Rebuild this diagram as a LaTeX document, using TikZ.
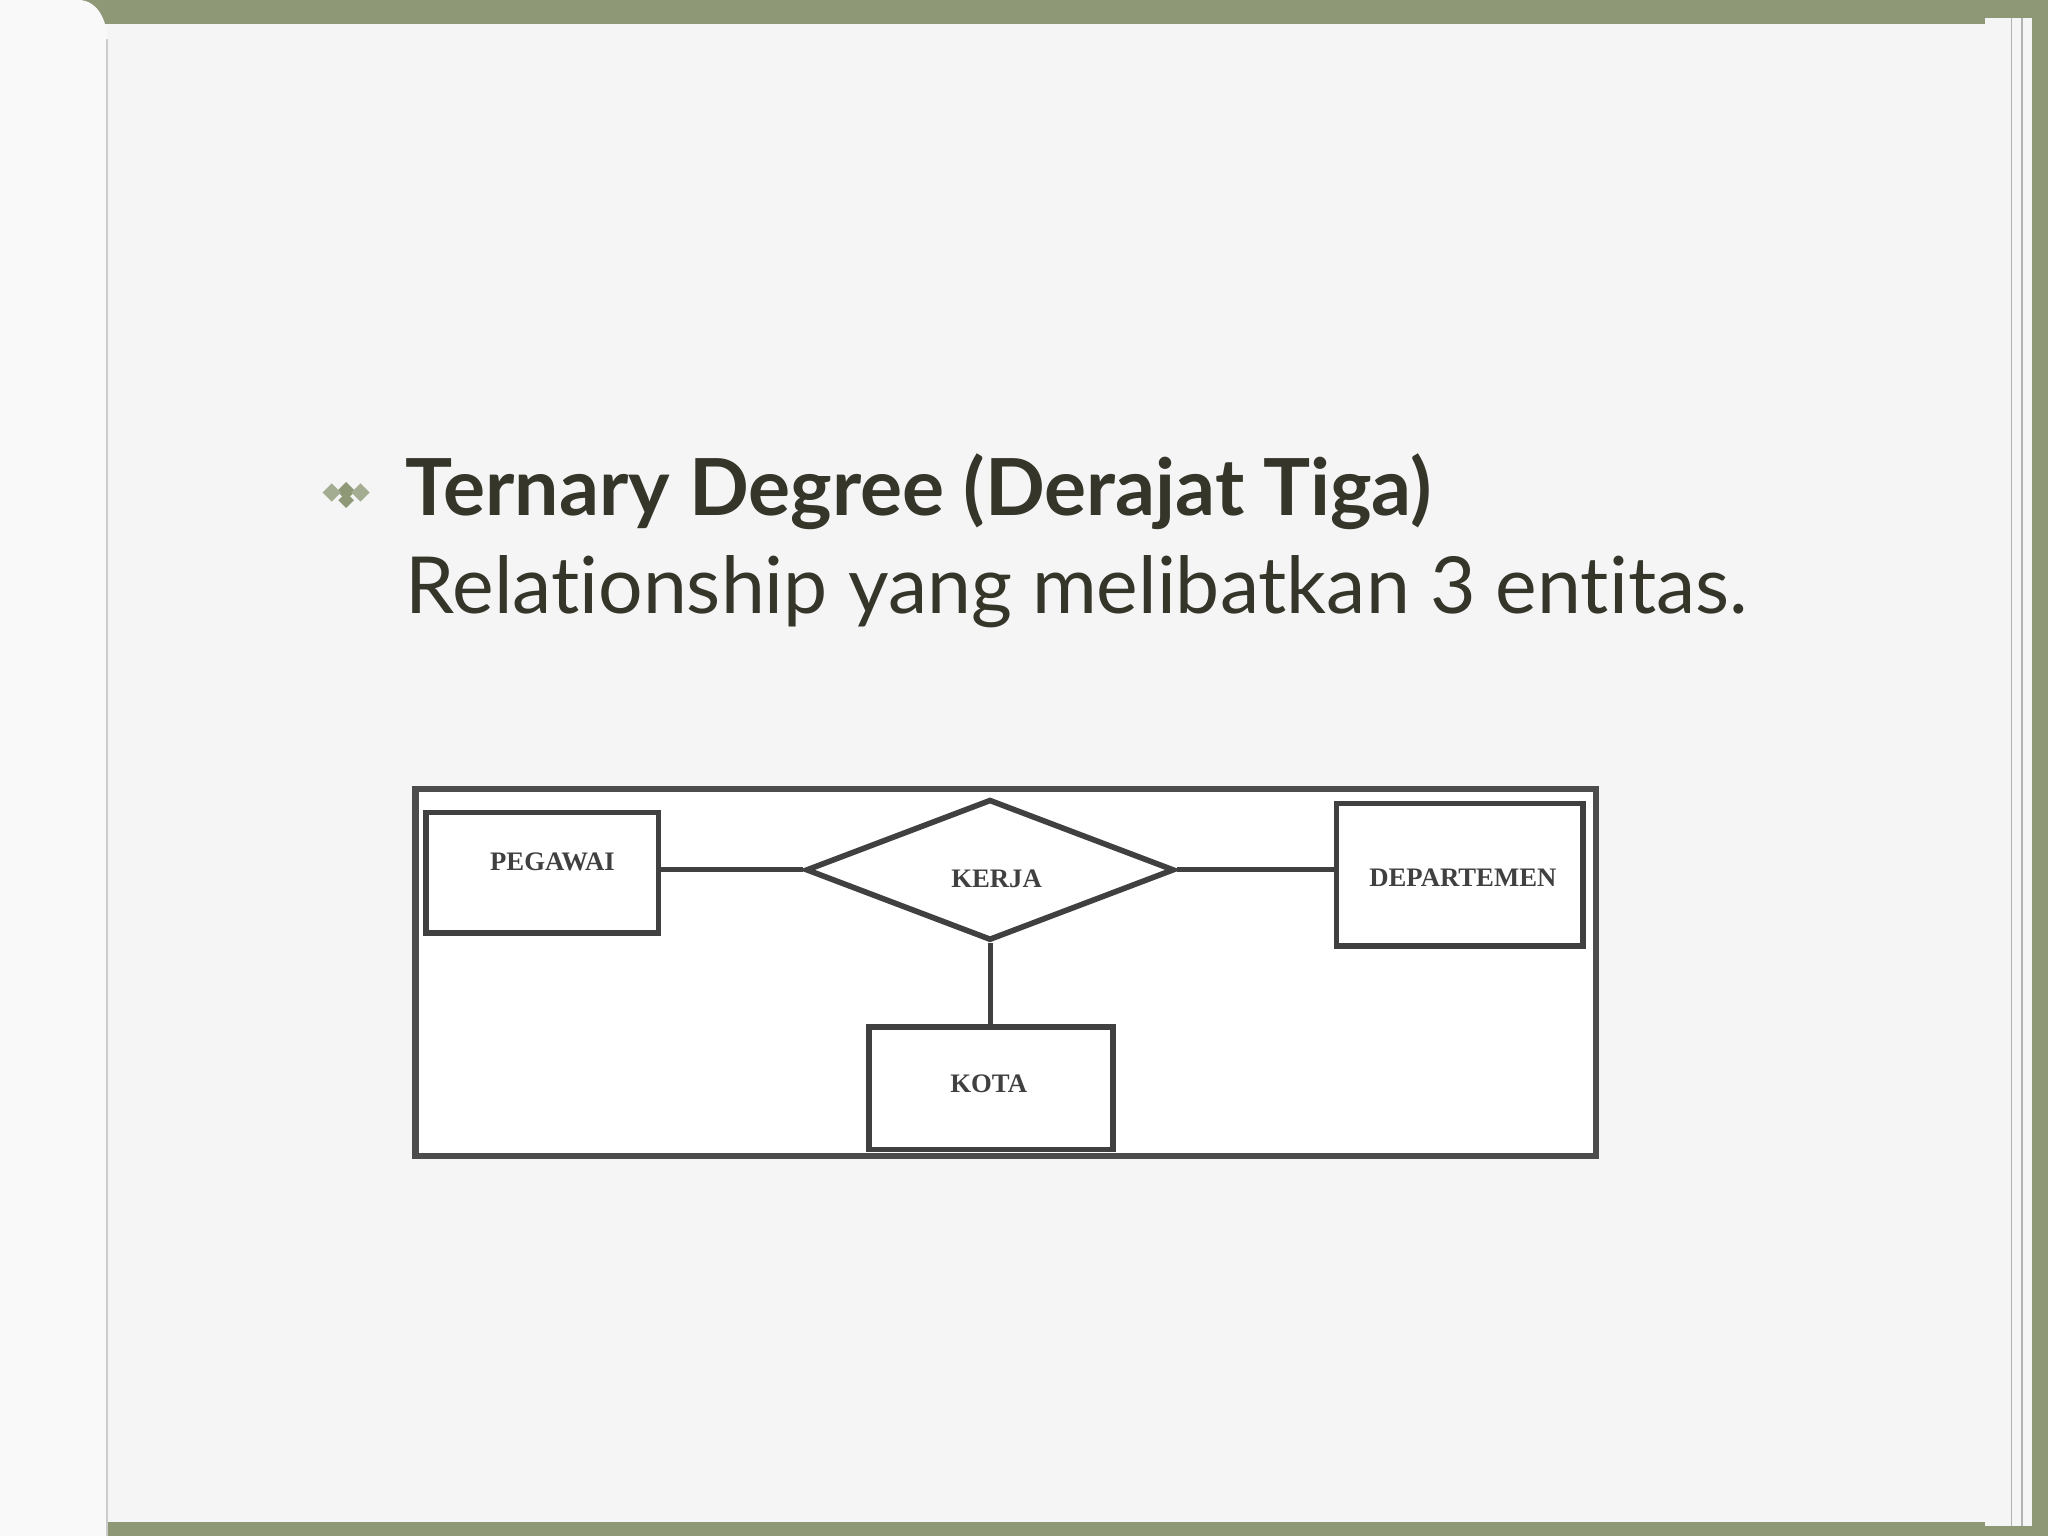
\documentclass[tikz,border=0pt]{standalone}
\usepackage{fontspec}
\setmainfont[Ligatures=NoCommon]{Lato}
\newfontfamily\erfont{Liberation Serif}
\usetikzlibrary{shapes.geometric}
\definecolor{frame}{HTML}{8E9877}
\definecolor{txt}{HTML}{35352A}
\definecolor{paper}{HTML}{F5F5F6}
\tikzset{ent/.style={draw=black!75,line width=1.6pt},
 lbl/.style={font=\erfont\bfseries\fontsize{7.6}{9}\selectfont,text=black!75},
 conn/.style={draw=black!75,line width=1.4pt}}
\begin{document}
\begin{tikzpicture}[x=0.013061cm,y=-0.013061cm]
\fill[frame] (0,0) rectangle (1568,1176);
\useasboundingbox (0,0) rectangle (1568,1176);
\fill[white!92!gray] (1520,14) rectangle (1556,1168);
\draw[gray!60] (1540,14) -- (1540,1168) (1548,14) -- (1548,1168);
\fill[paper] (80,18) rectangle (1532,1165);
\fill[white!95!gray] (0,0) -- (60,0) to[out=0,in=90] (82,30) -- (82,1176) -- (0,1176) -- cycle;
\draw[gray!40] (82,30) -- (82,1176);
% bullet
\fill[frame] (265,369) -- (272,376) -- (265,383) -- (258,376) -- cycle;
\fill[frame!80] (254,370) -- (261,377) -- (254,384) -- (247,377) -- cycle;
\fill[frame!80] (276,370) -- (283,377) -- (276,384) -- (269,377) -- cycle;
\fill[frame] (265,377) -- (271,383) -- (265,389) -- (259,383) -- cycle;
\node[anchor=base west,inner sep=0,text=txt,font=\bfseries\fontsize{22.4}{27}\selectfont] (t1) at (310,395) {Ternary Degree (Derajat Tiga)};
\node[anchor=base west,inner sep=0,text=txt,font=\fontsize{22.4}{27}\selectfont] (t2) at (310,470) {Relationship yang melibatkan 3 entitas.};
% diagram
\draw[fill=white,draw=black!70,line width=1.8pt] (318,604) rectangle (1222,885);
\node[ent,minimum width=178*0.013061cm,minimum height=92*0.013061cm,anchor=north west] (peg) at (324,620) {};
\node[lbl] at (423,660) {PEGAWAI};
\node[ent,diamond,aspect=2.6,minimum width=282*0.013061cm,minimum height=108*0.013061cm,inner sep=0] (kerja) at (758,666) {};
\node[lbl] at (763,673) {KERJA};
\node[ent,minimum width=189*0.013061cm,minimum height=109*0.013061cm,anchor=north west] (dep) at (1021,613) {};
\node[lbl] at (1120,672) {DEPARTEMEN};
\node[ent,minimum width=187*0.013061cm,minimum height=94*0.013061cm,anchor=north west] (kota) at (663,784) {};
\node[lbl] at (757,830) {KOTA};
\draw[conn] (peg.east |- kerja.west) -- (kerja.west);
\draw[conn] (kerja.east) -- (dep.west |- kerja.east);
\draw[conn] (kerja.south) -- (kota.north -| kerja.south);
\end{tikzpicture}
\end{document}
